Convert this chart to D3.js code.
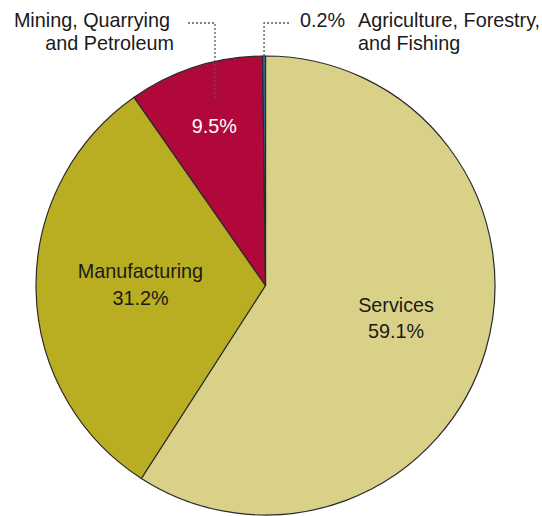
<!DOCTYPE html>
<html>
<head>
<meta charset="utf-8">
<script src="https://cdn.jsdelivr.net/npm/d3@7"></script>
<style>
  html, body { margin: 0; padding: 0; background: #fff; }
  svg { display: block; }
  text { font-family: "Liberation Sans", Arial, sans-serif; font-size: 19.8px; }
</style>
</head>
<body>
<svg id="chart" width="542" height="516"></svg>
<script>
// Sector shares of output, clockwise from 12 o'clock
const sectors = ["Services", "Manufacturing", "Mining, Quarrying and Petroleum", "Agriculture, Forestry, and Fishing"];
const shares = [59.1, 31.2, 9.5, 0.2];
const colors = ["#dad189", "#b9ae22", "#b0083a", "#3c6d94"];

const svg = d3.select("#chart");
const cx = 265.5, cy = 285.5, R = 229.5;

const g = svg.append("g").attr("transform", `translate(${cx},${cy})`);

const pie = d3.pie().sort(null).value(d => d.value);
const arcs = pie(sectors.map((name, i) => ({ name, value: shares[i], color: colors[i] })));
const arc = d3.arc().innerRadius(0).outerRadius(R);

g.selectAll("path.slice")
  .data(arcs)
  .join("path")
  .attr("class", "slice")
  .attr("d", arc)
  .attr("fill", d => d.data.color)
  .attr("stroke", "#2a2a2a")
  .attr("stroke-width", 1.2)
  .attr("stroke-linejoin", "round");

// Point at a given radius along the middle of a slice
function mid(d, r) {
  const a = (d.startAngle + d.endAngle) / 2;
  return [r * Math.sin(a), -r * Math.cos(a)];
}
const fmt = v => v.toFixed(1) + "%";

// Services
{
  const [x, y] = mid(arcs[0], R * 0.593);
  const t = g.append("text").attr("text-anchor", "middle").attr("fill", "#1a1a1a");
  t.append("tspan").attr("x", x).attr("y", y - 12).text("Services");
  t.append("tspan").attr("x", x).attr("y", y + 14).text(fmt(arcs[0].data.value));
}
// Manufacturing
{
  const [x, y] = mid(arcs[1], R * 0.545);
  const t = g.append("text").attr("text-anchor", "middle").attr("fill", "#1a1a1a");
  t.append("tspan").attr("x", x).attr("y", y - 10).text("Manufacturing");
  t.append("tspan").attr("x", x).attr("y", y + 17).text(fmt(arcs[1].data.value));
}
// Mining: value inside, name outside with a dotted leader
{
  const [x, y] = mid(arcs[2], R * 0.73);
  g.append("text").attr("text-anchor", "middle").attr("fill", "#fff")
    .attr("x", x).attr("y", y + 7).text(fmt(arcs[2].data.value));

  const lx = 215 - cx, ly = 23 - cy;
  g.append("path")
    .attr("d", `M${188 - cx},${ly} H${lx} V${99 - cy}`)
    .attr("fill", "none").attr("stroke", "#555").attr("stroke-width", 1.3)
    .attr("stroke-dasharray", "2,2");

  const t = svg.append("text").attr("text-anchor", "end").attr("fill", "#1a1a1a");
  t.append("tspan").attr("x", 170).attr("y", 27).text("Mining, Quarrying");
  t.append("tspan").attr("x", 174).attr("y", 50).text("and Petroleum");
}
// Agriculture: leader from the top of the pie to the value
{
  const a = (arcs[3].startAngle + arcs[3].endAngle) / 2;
  const px = R * Math.sin(a);
  const py = -R * Math.cos(a);
  g.append("path")
    .attr("d", `M${px},${py} V${23 - cy} H${290 - cx}`)
    .attr("fill", "none").attr("stroke", "#555").attr("stroke-width", 1.3)
    .attr("stroke-dasharray", "2,2");

  svg.append("text").attr("x", 300).attr("y", 27).attr("fill", "#1a1a1a")
    .text(fmt(arcs[3].data.value));
  const t = svg.append("text").attr("fill", "#1a1a1a");
  t.append("tspan").attr("x", 358).attr("y", 27).text("Agriculture, Forestry,");
  t.append("tspan").attr("x", 358).attr("y", 50).text("and Fishing");
}
</script>
</body>
</html>
